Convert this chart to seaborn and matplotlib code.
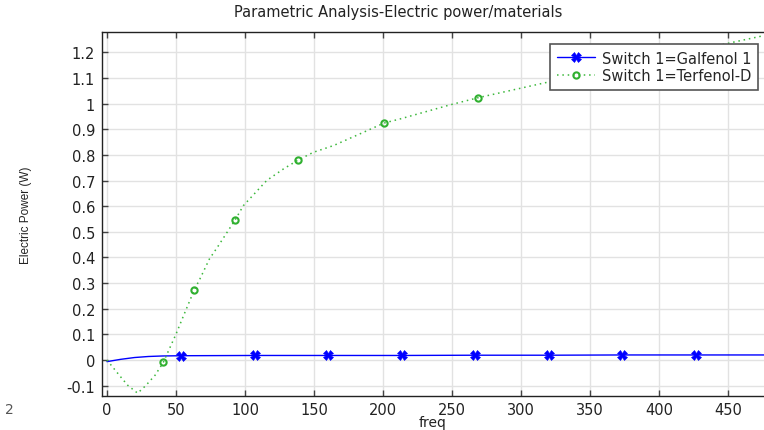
import matplotlib
matplotlib.use("Agg")
import matplotlib.pyplot as plt
import seaborn as sns
import pandas as pd
from matplotlib.ticker import FuncFormatter, MultipleLocator

# Galfenol 1 curve (freq, W)
galf_x = [0, 10, 20, 30, 40, 53.6, 106.9, 160.2, 213.5, 266.8, 320.1, 373.4, 426.7, 476]
galf_y = [-0.006, 0.003, 0.010, 0.014, 0.016, 0.017, 0.018, 0.018, 0.018, 0.019, 0.019, 0.020, 0.020, 0.020]
galf_marks = [5, 6, 7, 8, 9, 10, 11, 12]

# Terfenol-D curve (freq, W)
terf_x = [0, 5, 10, 15, 22.2, 28, 35, 40.8, 50, 56, 63.3, 67.4, 74.2, 80, 92.8, 98.8,
          115.7, 127.8, 138.2, 149.5, 164, 185, 200.7, 212.3, 248.6, 269, 319.8, 340,
          380, 410, 450, 476]
terf_y = [0.0, -0.033, -0.066, -0.098, -0.129, -0.10, -0.058, -0.009, 0.101, 0.18, 0.274, 0.317,
          0.394, 0.44, 0.546, 0.602, 0.70, 0.745, 0.779, 0.81, 0.836, 0.886, 0.924, 0.940,
          0.995, 1.023, 1.084, 1.105, 1.152, 1.187, 1.235, 1.265]
terf_marks = [7, 10, 14, 18, 22, 25, 27, 29]

sns.set_theme(style="whitegrid")
plt.rcParams['font.family'] = ['DejaVu Sans']

fig = plt.figure(figsize=(7.64, 4.31), dpi=100)
ax = fig.add_axes([102/764, 1 - 397/431, 1 - 102/764, (397 - 33)/431])

galf = pd.DataFrame({"freq": galf_x, "power": galf_y})
terf = pd.DataFrame({"freq": terf_x, "power": terf_y})

sns.lineplot(data=galf, x="freq", y="power", ax=ax, color="#0000ff", lw=1.0,
             marker="X", markersize=6.5, markeredgewidth=0.4, markeredgecolor="#0000ff",
             markevery=galf_marks, label="Switch 1=Galfenol 1")
sns.lineplot(data=terf, x="freq", y="power", ax=ax, color="#3cb83c", lw=1.1,
             linestyle=(0, (1, 2.5)), marker="o", markersize=4.5, markerfacecolor="none",
             markeredgewidth=1.5, markeredgecolor="#30b030", markevery=terf_marks,
             label="Switch 1=Terfenol-D")

ax.set_xlim(-3.6, 476)
ax.set_ylim(-0.14, 1.279)
ax.xaxis.set_major_locator(MultipleLocator(50))
ax.yaxis.set_major_locator(MultipleLocator(0.1))
ax.yaxis.set_major_formatter(FuncFormatter(lambda v, p: "%g" % round(v, 2)))

ax.set_facecolor("white")
ax.grid(True, color="#e2e2e2", lw=1.0)
for s in ["left", "bottom", "top"]:
    ax.spines[s].set_visible(True)
    ax.spines[s].set_color("#222222")
    ax.spines[s].set_linewidth(1.0)
ax.spines["right"].set_visible(False)
ax.tick_params(axis="both", direction="in", length=4, width=1, color="#444444",
               labelsize=10.5, labelcolor="#222222", pad=5)
ax.tick_params(axis="x", top=True, bottom=True, pad=4)
ax.tick_params(axis="y", left=True, right=False)

ax.set_xlabel("freq", fontsize=10, color="#222222", labelpad=-1)
ax.set_ylabel("Electric Power (W)", fontsize=8.5, family="Liberation Sans",
              color="#222222", labelpad=25)

fig.text(398/764, 1 - 12/431, "Parametric Analysis-Electric power/materials",
         ha="center", va="center", fontsize=10.5, color="#222222")
fig.text(9/764, 1 - 410/431, "2", ha="center", va="center", fontsize=10, color="#555555")

leg = ax.legend(loc="upper right", bbox_to_anchor=(0.991, 0.967), borderaxespad=0,
                fontsize=10.5, frameon=True, fancybox=False, framealpha=1,
                edgecolor="#555555", handlelength=2.6, handletextpad=0.5,
                borderpad=0.45, labelspacing=0.2)
leg.get_frame().set_linewidth(1.2)

fig.savefig("out.png", dpi=100)
